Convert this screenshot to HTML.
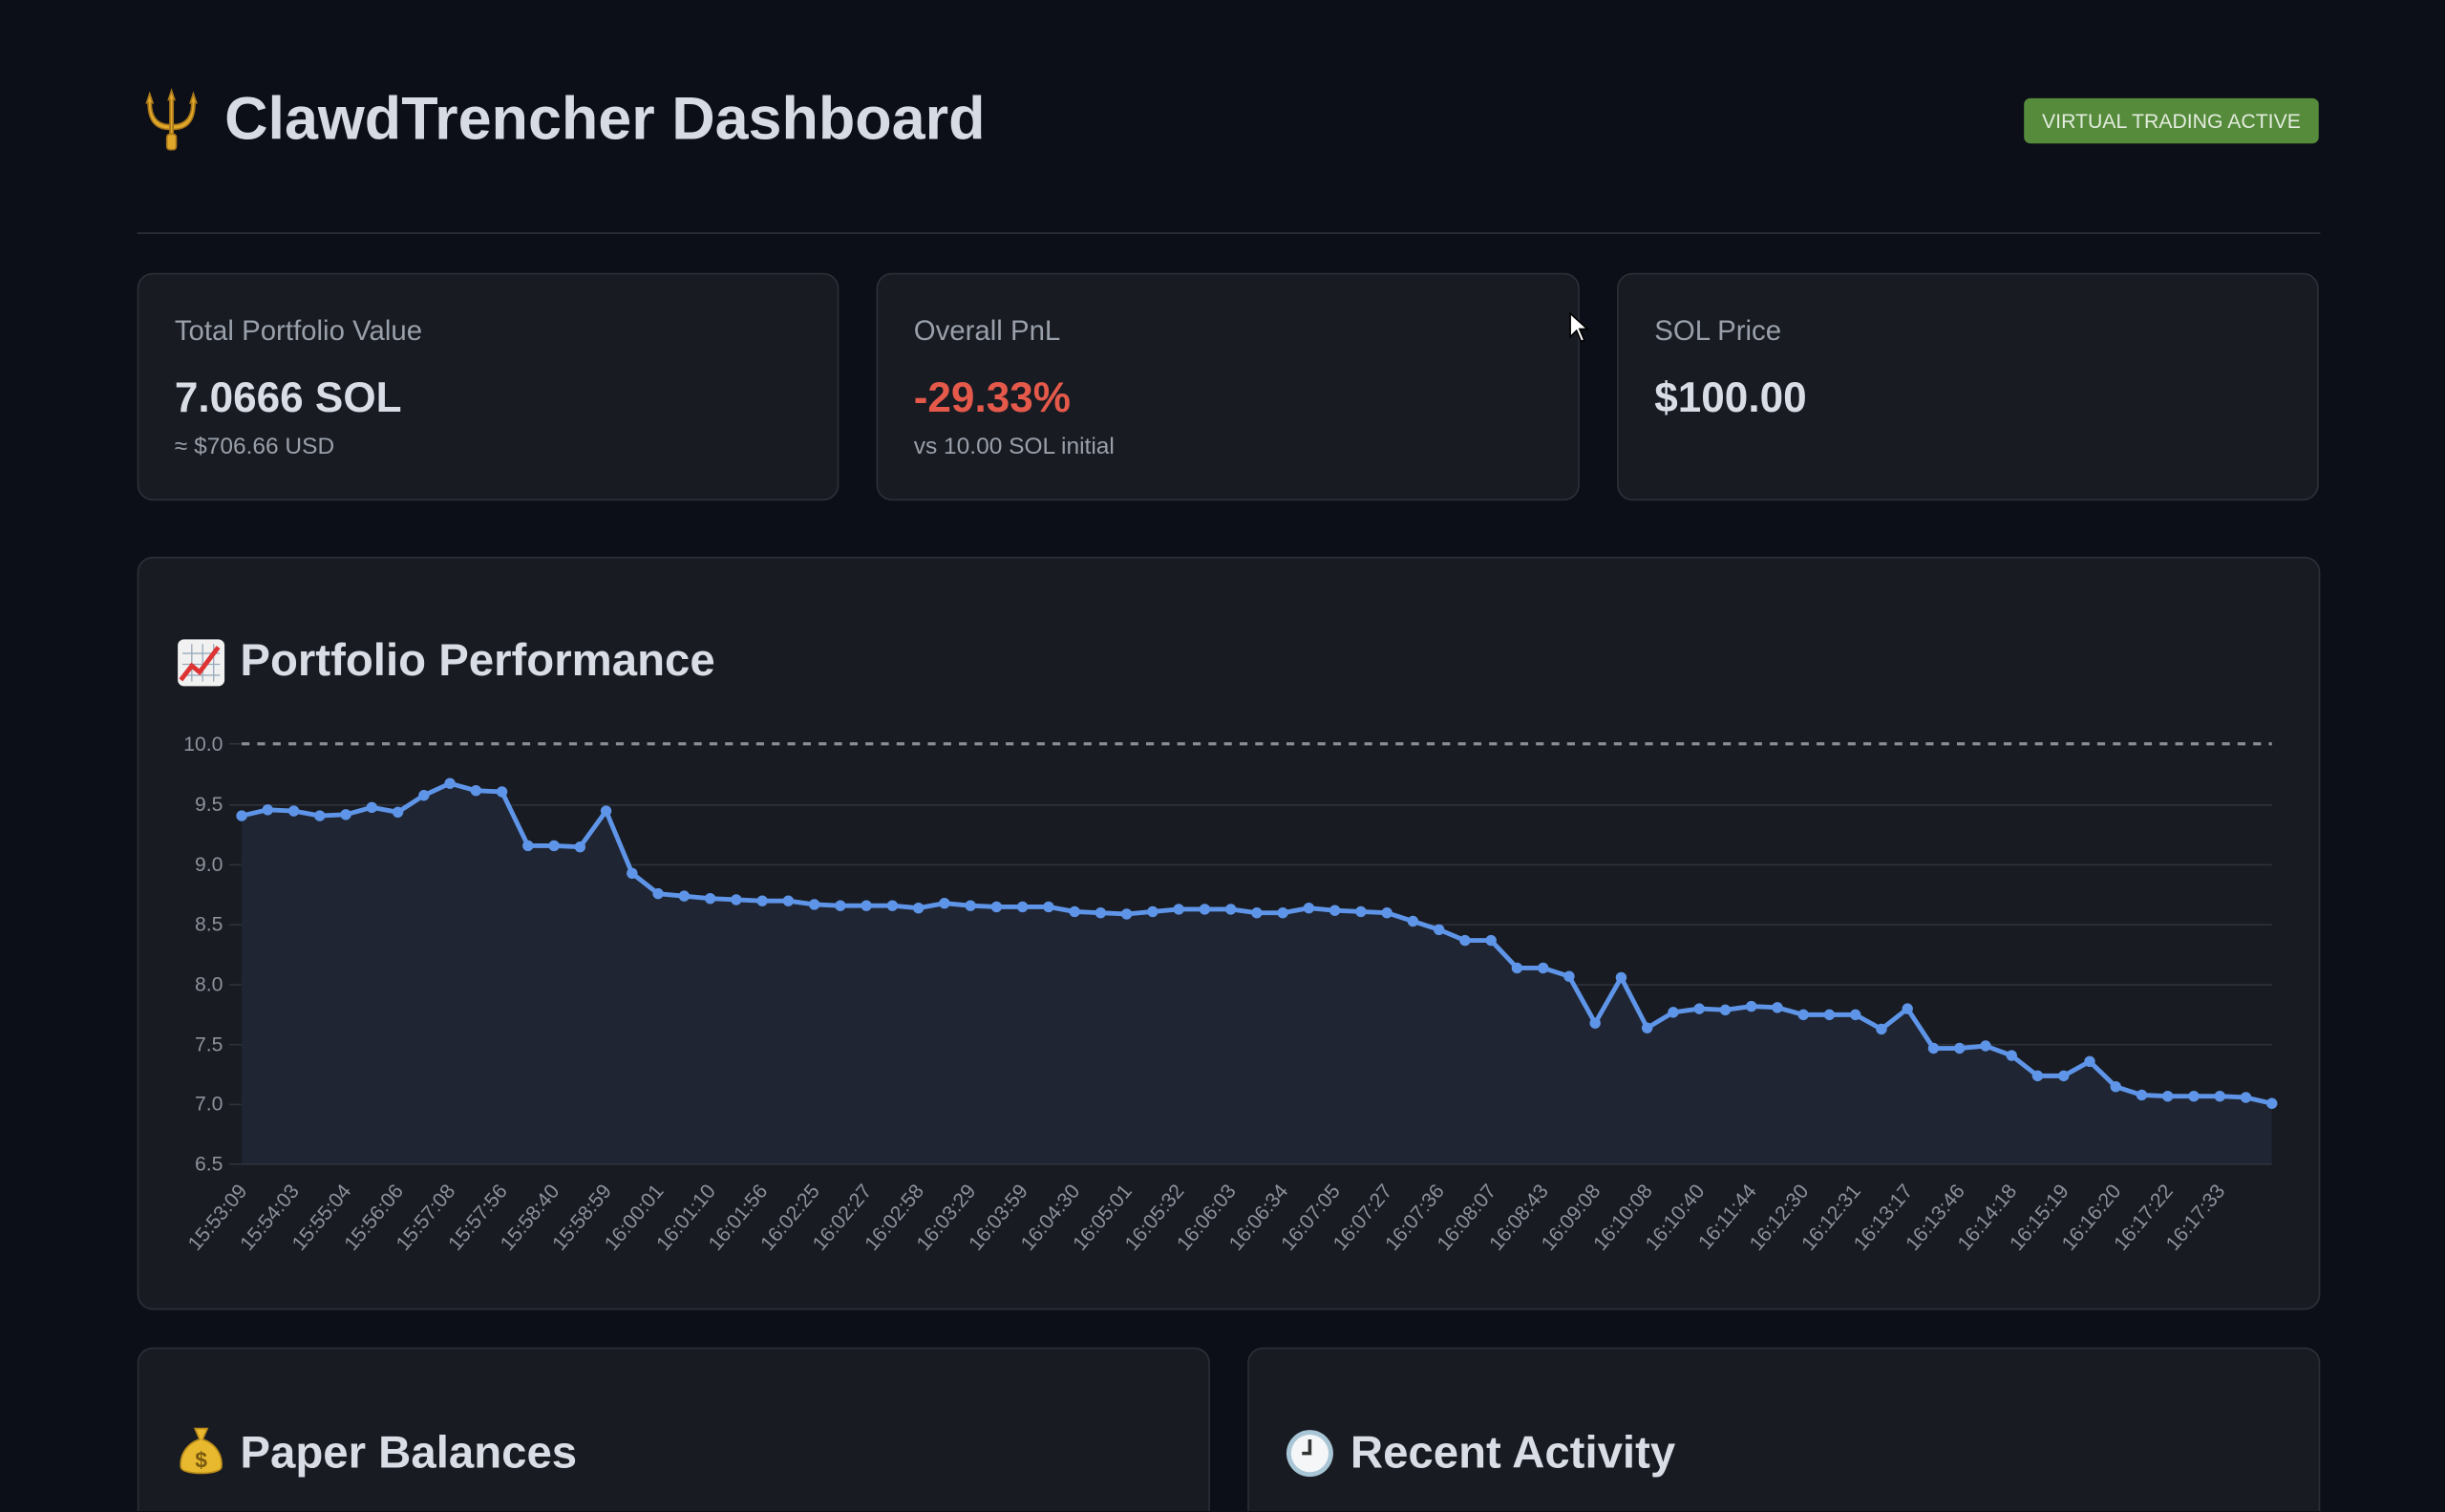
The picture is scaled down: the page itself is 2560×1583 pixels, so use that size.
<!DOCTYPE html>
<html><head><meta charset="utf-8"><style>
html,body{margin:0;padding:0;background:#0c0f17;overflow:hidden}
body{width:2560px;height:1583px;position:relative;overflow:hidden}
#w{position:absolute;left:0;top:0;width:1568px;height:969px;overflow:hidden;transform:scale(1.63266);transform-origin:0 0;font-family:"Liberation Sans",sans-serif;color:#d6dbe4}
.card{position:absolute;background:#181b22;border:1px solid #2b3039;border-radius:10px;box-sizing:border-box}
.lbl{position:absolute;left:23px;top:26px;font-size:18px;color:#9aa0aa}
.val{position:absolute;left:23px;top:64px;font-size:27px;font-weight:bold;color:#d9dde6}
.sub{position:absolute;left:23px;top:102px;font-size:15px;color:#9aa0aa}
h2{position:absolute;margin:0;font-size:29px;font-weight:bold;color:#d9dde6;line-height:34px}
</style></head><body><div id="w">
<svg style="position:absolute;left:88px;top:56px" width="44" height="44" viewBox="0 0 44 44">
<g fill="#e0a82a" stroke="#a8761a" stroke-width="1">
<path d="M20 8 L22 2 L24 8 L23 8 L23 30 L21 30 L21 8Z"/>
<path d="M6 10 L8 4 L10 10 L9 10 C9 20 14 24 21 24 L21 27 C12 27 7 22 7 10Z"/>
<path d="M38 10 L36 4 L34 10 L35 10 C35 20 30 24 23 24 L23 27 C32 27 37 22 37 10Z"/>
<rect x="19" y="30" width="6" height="10" rx="2"/></g></svg>
<div style="position:absolute;left:144px;top:55px;font-size:38.5px;font-weight:bold;color:#d6dbe4">ClawdTrencher Dashboard</div>
<div style="position:absolute;left:1298px;top:63px;width:189px;height:29px;background:#558b3a;border-radius:4px;font-size:13px;color:#e4ecdf;line-height:29px;text-align:center">VIRTUAL TRADING ACTIVE</div>
<div style="position:absolute;left:88px;top:149px;width:1400px;height:1px;background:#2b303a"></div>

<div class="card" style="left:88px;top:175px;width:450px;height:146px"><div class="lbl">Total Portfolio Value</div><div class="val">7.0666 SOL</div><div class="sub">≈ $706.66 USD</div></div>
<div class="card" style="left:562px;top:175px;width:451px;height:146px"><div class="lbl">Overall PnL</div><div class="val" style="color:#e5594b">-29.33%</div><div class="sub">vs 10.00 SOL initial</div></div>
<div class="card" style="left:1037px;top:175px;width:450px;height:146px"><div class="lbl">SOL Price</div><div class="val">$100.00</div></div>
<svg style="position:absolute;left:1006px;top:200px" width="14" height="22"><path d="M1 1 L1 16 L5 12 L8 19 L10 18 L7 11 L12 11Z" fill="#fff" stroke="#000" stroke-width="1"/></svg>

<div class="card" style="left:88px;top:357px;width:1400px;height:483px"></div>
<svg style="position:absolute;left:113px;top:409px" width="32" height="32" viewBox="0 0 32 32"><rect x="1" y="1" width="30" height="30" rx="4" fill="#f1f1f1"/><path d="M4 10H28M4 17H28M4 24H28M10 4V28M17 4V28M24 4V28" stroke="#9ab" stroke-width="0.8"/><path d="M3 27 L10 18 L15 22 L27 6" stroke="#d33" stroke-width="3" fill="none"/></svg>
<h2 style="left:154px;top:407px">Portfolio Performance</h2>

<svg style="position:absolute;left:0;top:0" width="1568" height="969">
<g stroke="#2e323b" stroke-width="1">
<line x1="147" y1="516.2" x2="1457" y2="516.2"/><line x1="147" y1="554.6" x2="1457" y2="554.6"/><line x1="147" y1="593" x2="1457" y2="593"/><line x1="147" y1="631.5" x2="1457" y2="631.5"/><line x1="147" y1="669.9" x2="1457" y2="669.9"/><line x1="147" y1="708.3" x2="1457" y2="708.3"/><line x1="147" y1="746.5" x2="1457" y2="746.5"/><line x1="147" y1="477" x2="155" y2="477"/>
</g>
<g font-size="13" fill="#8c919b" text-anchor="end" font-family="Liberation Sans,sans-serif">
<text x="143" y="481.5">10.0</text><text x="143" y="520">9.5</text><text x="143" y="558.5">9.0</text><text x="143" y="597">8.5</text><text x="143" y="635.5">8.0</text><text x="143" y="674">7.5</text><text x="143" y="712">7.0</text><text x="143" y="750.5">6.5</text>
</g>
<g transform="translate(155,477) scale(16.692,-76.86) translate(0,-10)">
<polygon fill="#1f2533" points="0,6.5 0,9.40 1,9.45 2,9.44 3,9.40 4,9.41 5,9.47 6,9.43 7,9.57 8,9.67 9,9.61 10,9.60 11,9.15 12,9.15 13,9.14 14,9.44 15,8.92 16,8.75 17,8.73 18,8.71 19,8.70 20,8.69 21,8.69 22,8.66 23,8.65 24,8.65 25,8.65 26,8.63 27,8.67 28,8.65 29,8.64 30,8.64 31,8.64 32,8.60 33,8.59 34,8.58 35,8.60 36,8.62 37,8.62 38,8.62 39,8.59 40,8.59 41,8.63 42,8.61 43,8.60 44,8.59 45,8.52 46,8.45 47,8.36 48,8.36 49,8.13 50,8.13 51,8.06 52,7.67 53,8.05 54,7.63 55,7.76 56,7.79 57,7.78 58,7.81 59,7.80 60,7.74 61,7.74 62,7.74 63,7.62 64,7.79 65,7.46 66,7.46 67,7.48 68,7.40 69,7.23 70,7.23 71,7.35 72,7.14 73,7.07 74,7.06 75,7.06 76,7.06 77,7.05 78,7.00 78,6.5"/>
<line x1="0" y1="10" x2="78" y2="10" stroke="#8a8d93" stroke-width="2" stroke-dasharray="5 5" vector-effect="non-scaling-stroke"/>
<polyline fill="none" stroke="#5f95e8" stroke-width="3" stroke-linejoin="round" vector-effect="non-scaling-stroke" points="0,9.40 1,9.45 2,9.44 3,9.40 4,9.41 5,9.47 6,9.43 7,9.57 8,9.67 9,9.61 10,9.60 11,9.15 12,9.15 13,9.14 14,9.44 15,8.92 16,8.75 17,8.73 18,8.71 19,8.70 20,8.69 21,8.69 22,8.66 23,8.65 24,8.65 25,8.65 26,8.63 27,8.67 28,8.65 29,8.64 30,8.64 31,8.64 32,8.60 33,8.59 34,8.58 35,8.60 36,8.62 37,8.62 38,8.62 39,8.59 40,8.59 41,8.63 42,8.61 43,8.60 44,8.59 45,8.52 46,8.45 47,8.36 48,8.36 49,8.13 50,8.13 51,8.06 52,7.67 53,8.05 54,7.63 55,7.76 56,7.79 57,7.78 58,7.81 59,7.80 60,7.74 61,7.74 62,7.74 63,7.62 64,7.79 65,7.46 66,7.46 67,7.48 68,7.40 69,7.23 70,7.23 71,7.35 72,7.14 73,7.07 74,7.06 75,7.06 76,7.06 77,7.05 78,7.00"/>
<path fill="none" stroke="#5f95e8" stroke-width="7" stroke-linecap="round" vector-effect="non-scaling-stroke" d="M0 9.40h0M1 9.45h0M2 9.44h0M3 9.40h0M4 9.41h0M5 9.47h0M6 9.43h0M7 9.57h0M8 9.67h0M9 9.61h0M10 9.60h0M11 9.15h0M12 9.15h0M13 9.14h0M14 9.44h0M15 8.92h0M16 8.75h0M17 8.73h0M18 8.71h0M19 8.70h0M20 8.69h0M21 8.69h0M22 8.66h0M23 8.65h0M24 8.65h0M25 8.65h0M26 8.63h0M27 8.67h0M28 8.65h0M29 8.64h0M30 8.64h0M31 8.64h0M32 8.60h0M33 8.59h0M34 8.58h0M35 8.60h0M36 8.62h0M37 8.62h0M38 8.62h0M39 8.59h0M40 8.59h0M41 8.63h0M42 8.61h0M43 8.60h0M44 8.59h0M45 8.52h0M46 8.45h0M47 8.36h0M48 8.36h0M49 8.13h0M50 8.13h0M51 8.06h0M52 7.67h0M53 8.05h0M54 7.63h0M55 7.76h0M56 7.79h0M57 7.78h0M58 7.81h0M59 7.80h0M60 7.74h0M61 7.74h0M62 7.74h0M63 7.62h0M64 7.79h0M65 7.46h0M66 7.46h0M67 7.48h0M68 7.40h0M69 7.23h0M70 7.23h0M71 7.35h0M72 7.14h0M73 7.07h0M74 7.06h0M75 7.06h0M76 7.06h0M77 7.05h0M78 7.00h0"/>
</g>
<g font-size="13" fill="#8c919b" text-anchor="end" font-family="Liberation Sans,sans-serif">
<text transform="translate(159,764) rotate(-50)">15:53:09</text>
<text transform="translate(192.4,764) rotate(-50)">15:54:03</text>
<text transform="translate(225.8,764) rotate(-50)">15:55:04</text>
<text transform="translate(259.2,764) rotate(-50)">15:56:06</text>
<text transform="translate(292.5,764) rotate(-50)">15:57:08</text>
<text transform="translate(325.9,764) rotate(-50)">15:57:56</text>
<text transform="translate(359.3,764) rotate(-50)">15:58:40</text>
<text transform="translate(392.7,764) rotate(-50)">15:58:59</text>
<text transform="translate(426.1,764) rotate(-50)">16:00:01</text>
<text transform="translate(459.4,764) rotate(-50)">16:01:10</text>
<text transform="translate(492.8,764) rotate(-50)">16:01:56</text>
<text transform="translate(526.2,764) rotate(-50)">16:02:25</text>
<text transform="translate(559.6,764) rotate(-50)">16:02:27</text>
<text transform="translate(593,764) rotate(-50)">16:02:58</text>
<text transform="translate(626.3,764) rotate(-50)">16:03:29</text>
<text transform="translate(659.7,764) rotate(-50)">16:03:59</text>
<text transform="translate(693.1,764) rotate(-50)">16:04:30</text>
<text transform="translate(726.5,764) rotate(-50)">16:05:01</text>
<text transform="translate(759.9,764) rotate(-50)">16:05:32</text>
<text transform="translate(793.2,764) rotate(-50)">16:06:03</text>
<text transform="translate(826.6,764) rotate(-50)">16:06:34</text>
<text transform="translate(860,764) rotate(-50)">16:07:05</text>
<text transform="translate(893.4,764) rotate(-50)">16:07:27</text>
<text transform="translate(926.8,764) rotate(-50)">16:07:36</text>
<text transform="translate(960.1,764) rotate(-50)">16:08:07</text>
<text transform="translate(993.5,764) rotate(-50)">16:08:43</text>
<text transform="translate(1026.9,764) rotate(-50)">16:09:08</text>
<text transform="translate(1060.3,764) rotate(-50)">16:10:08</text>
<text transform="translate(1093.7,764) rotate(-50)">16:10:40</text>
<text transform="translate(1127,764) rotate(-50)">16:11:44</text>
<text transform="translate(1160.4,764) rotate(-50)">16:12:30</text>
<text transform="translate(1193.8,764) rotate(-50)">16:12:31</text>
<text transform="translate(1227.2,764) rotate(-50)">16:13:17</text>
<text transform="translate(1260.6,764) rotate(-50)">16:13:46</text>
<text transform="translate(1293.9,764) rotate(-50)">16:14:18</text>
<text transform="translate(1327.3,764) rotate(-50)">16:15:19</text>
<text transform="translate(1360.7,764) rotate(-50)">16:16:20</text>
<text transform="translate(1394.1,764) rotate(-50)">16:17:22</text>
<text transform="translate(1427.5,764) rotate(-50)">16:17:33</text>
</g>
</svg>

<div class="card" style="left:88px;top:864px;width:688px;height:105px;border-bottom:none;border-radius:10px 10px 0 0"></div>
<div class="card" style="left:800px;top:864px;width:688px;height:105px;border-bottom:none;border-radius:10px 10px 0 0"></div>
<svg style="position:absolute;left:113px;top:914px" width="32" height="34" viewBox="0 0 32 34"><path d="M12 2 L20 2 L17 9 C26 12 30 20 29 27 C28 32 4 32 3 27 C2 20 6 12 15 9Z" fill="#e8b92e" stroke="#b88a1a"/><text x="16" y="27" font-size="14" font-weight="bold" text-anchor="middle" fill="#7a5a10" font-family="Liberation Sans,sans-serif">$</text></svg>
<h2 style="left:154px;top:915px">Paper Balances</h2>
<svg style="position:absolute;left:824px;top:916px" width="32" height="32" viewBox="0 0 32 32"><circle cx="16" cy="16" r="15" fill="#a9c6d6"/><circle cx="16" cy="16" r="12" fill="#f4f6f8"/><path d="M16 7 V16 H11" stroke="#333" stroke-width="2.2" fill="none"/></svg>
<h2 style="left:866px;top:915px">Recent Activity</h2>
</div></body></html>
